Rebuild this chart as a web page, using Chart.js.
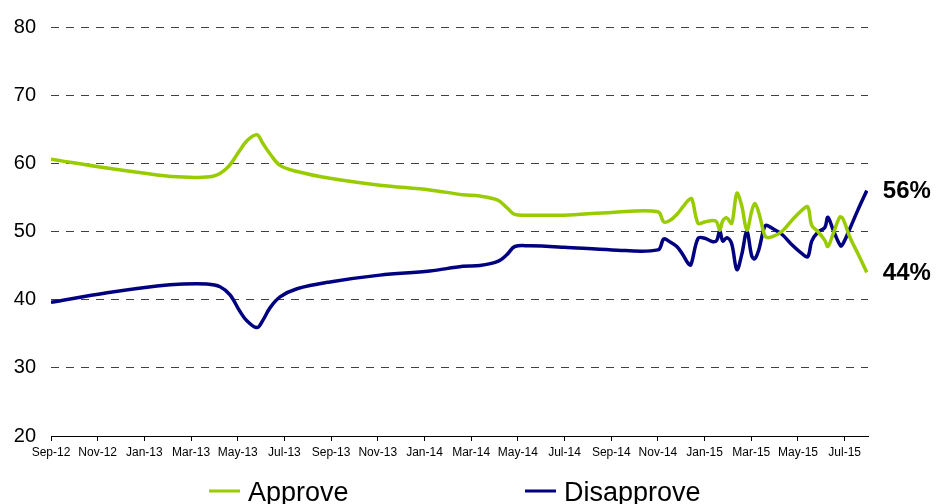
<!DOCTYPE html>
<html>
<head>
<meta charset="utf-8">
<script src="https://cdn.jsdelivr.net/npm/chart.js@4/dist/chart.umd.min.js"></script>
<style>
  html, body { margin: 0; padding: 0; background: #ffffff; }
  #wrap { width: 940px; height: 504px; }
</style>
</head>
<body>
<div id="wrap"><canvas id="c" width="940" height="504"></canvas></div>
<script>
// Axis labels, one every two months starting Sep-12
const monthLabels = ['Sep-12','Nov-12','Jan-13','Mar-13','May-13','Jul-13','Sep-13','Nov-13',
  'Jan-14','Mar-14','May-14','Jul-14','Sep-14','Nov-14','Jan-15','Mar-15','May-15','Jul-15'];

// Survey dates, in months since Sep-12
const approveMonths = [0, 2.40, 4.54, 5.65, 6.94, 7.54, 8.09, 8.39, 8.82, 9.08, 9.38, 9.81, 10.54,
  11.95, 14.09, 16.23, 17.64, 18.37, 19.14, 19.53, 19.87, 20.51, 21.97, 24.03, 26.00, 26.25, 26.51,
  26.81, 27.07, 27.28, 27.45, 27.72, 28.01, 28.35, 28.52, 28.65, 28.78, 28.95, 29.16, 29.38, 29.59,
  29.81, 30.02, 30.15, 30.32, 30.50, 30.62, 30.88, 31.31, 31.73, 32.16, 32.42, 32.59, 32.85, 33.15,
  33.28, 33.49, 33.79, 33.92, 34.22, 34.56, 34.95];
const approveValues = [60.6, 59.3, 58.3, 58.0, 58.1, 59.3, 61.9, 63.3, 64.2, 62.9, 61.4, 59.7, 58.8,
  57.8, 56.8, 56.1, 55.4, 55.2, 54.6, 53.5, 52.5, 52.4, 52.4, 52.8, 52.9, 51.4, 51.6,
  52.5, 53.6, 54.5, 54.8, 51.2, 51.4, 51.6, 51.4, 50.2, 51.6, 52.0, 51.2, 55.6, 53.8,
  50.2, 53.0, 54.1, 52.8, 50.3, 49.2, 49.2, 50.0, 51.6, 53.1, 53.6, 50.9, 50.0, 48.7,
  47.8, 49.5, 52.1, 51.9, 49.2, 46.8, 44.0];

const disapproveMonths = [0, 2.40, 4.54, 5.65, 6.68, 7.24, 7.67, 8.09, 8.39, 8.82, 9.08, 9.38, 9.81,
  10.54, 11.95, 14.09, 16.23, 17.64, 18.37, 19.14, 19.53, 19.87, 20.51, 21.97, 24.03, 26.00, 26.25,
  26.51, 26.81, 27.07, 27.28, 27.41, 27.72, 28.01, 28.35, 28.52, 28.65, 28.78, 28.95, 29.16, 29.38,
  29.59, 29.81, 30.02, 30.15, 30.32, 30.50, 30.62, 30.88, 31.31, 31.73, 32.16, 32.42, 32.59, 32.85,
  33.15, 33.28, 33.49, 33.83, 33.96, 34.22, 34.56, 34.95];
const disapproveValues = [39.6, 41.0, 42.0, 42.3, 42.3, 41.9, 40.7, 38.3, 36.9, 35.9, 37.0, 38.8, 40.4,
  41.6, 42.6, 43.6, 44.2, 44.9, 45.0, 45.6, 46.6, 47.8, 47.9, 47.7, 47.3, 47.3, 48.9,
  48.5, 47.8, 46.6, 45.4, 45.1, 49.0, 49.0, 48.5, 48.7, 50.1, 48.6, 49.1, 48.2, 44.4,
  46.6, 50.0, 46.4, 46.0, 47.3, 49.9, 50.9, 50.5, 49.6, 48.1, 46.8, 46.3, 48.6, 49.9,
  50.6, 52.1, 50.4, 47.9, 48.4, 50.4, 53.1, 56.0];

const FONT = '"Liberation Sans", Arial, sans-serif';
const GREEN = '#99cc00';
const NAVY = '#000080';

const toPoints = (xs, ys) => xs.map((x, i) => ({ x: x, y: ys[i] }));

// Bold percentage next to the last point of each series
const endLabels = {
  id: 'endLabels',
  afterDatasetsDraw(chart) {
    const ctx = chart.ctx;
    ctx.save();
    ctx.font = 'bold 24px ' + FONT;
    ctx.fillStyle = '#000';
    ctx.textAlign = 'left';
    ctx.textBaseline = 'middle';
    chart.data.datasets.forEach((ds, i) => {
      const meta = chart.getDatasetMeta(i);
      const last = meta.data[meta.data.length - 1];
      const v = ds.data[ds.data.length - 1].y;
      ctx.fillText(Math.round(v) + '%', last.x + 16, last.y + 1);
    });
    ctx.restore();
  }
};

// Legend under the axis, line sample followed by the series name
const bottomLegend = {
  id: 'bottomLegend',
  afterDraw(chart) {
    const ctx = chart.ctx;
    const items = [
      { x: 209, ds: chart.data.datasets[0] },
      { x: 525, ds: chart.data.datasets[1] }
    ];
    ctx.save();
    ctx.font = '27px ' + FONT;
    ctx.textBaseline = 'alphabetic';
    ctx.textAlign = 'left';
    items.forEach(it => {
      ctx.fillStyle = it.ds.borderColor;
      ctx.fillRect(it.x, 489.5, 31, 3);
      ctx.fillStyle = '#000';
      ctx.fillText(it.ds.label, it.x + 39, 501);
    });
    ctx.restore();
  }
};

new Chart(document.getElementById('c'), {
  type: 'line',
  data: {
    datasets: [
      {
        label: 'Approve',
        data: toPoints(approveMonths, approveValues),
        borderColor: GREEN,
        backgroundColor: GREEN,
        borderWidth: 3.5,
        pointRadius: 0,
        tension: 0.35,
        fill: false
      },
      {
        label: 'Disapprove',
        data: toPoints(disapproveMonths, disapproveValues),
        borderColor: NAVY,
        backgroundColor: NAVY,
        borderWidth: 3.5,
        pointRadius: 0,
        tension: 0.35,
        fill: false
      }
    ]
  },
  options: {
    responsive: false,
    animation: false,
    events: [],
    layout: { padding: { top: 22, right: 72, left: 0, bottom: 0 } },
    plugins: {
      legend: { display: false },
      tooltip: { enabled: false },
      title: { display: false }
    },
    scales: {
      x: {
        type: 'linear',
        min: 0,
        max: 35,
        afterBuildTicks(scale) {
          scale.ticks = monthLabels.map((_, i) => ({ value: i * 2 }));
        },
        afterFit(scale) { scale.height = 68; },
        grid: {
          drawOnChartArea: false,
          drawTicks: true,
          tickLength: 5,
          color: '#000'
        },
        border: { display: true, color: '#000', width: 1 },
        ticks: {
          autoSkip: false,
          maxRotation: 0,
          padding: 4,
          color: '#000',
          font: { family: FONT, size: 12 },
          callback: (value, index) => monthLabels[index]
        }
      },
      y: {
        min: 20,
        max: 80,
        afterFit(scale) { scale.width = 51; },
        grid: {
          drawTicks: false,
          lineWidth: 1,
          color: ctx => (ctx.tick && ctx.tick.value === 20) ? 'rgba(0,0,0,0)' : '#404040'
        },
        border: { display: false, dash: [8, 7] },
        ticks: {
          stepSize: 10,
          padding: 15,
          color: '#000',
          font: { family: FONT, size: 20 }
        }
      }
    }
  },
  plugins: [endLabels, bottomLegend]
});
</script>
</body>
</html>
